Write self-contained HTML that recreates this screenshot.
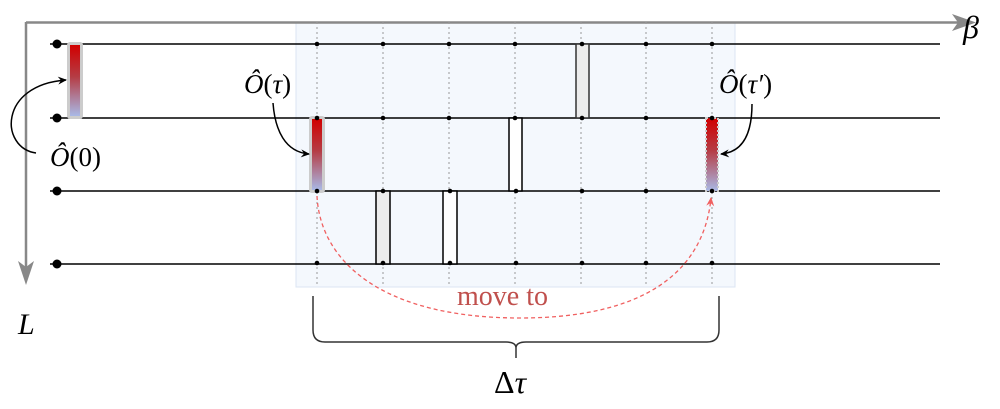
<!DOCTYPE html>
<html><head><meta charset="utf-8"><style>
html,body{margin:0;padding:0;background:#fff;width:1000px;height:409px;overflow:hidden}
text{font-family:"Liberation Serif",serif}
.i{font-style:italic}
</style></head><body>
<svg width="1000" height="409" viewBox="0 0 1000 409" xmlns="http://www.w3.org/2000/svg">
<defs>
<linearGradient id="rb" x1="0" y1="0" x2="0" y2="1">
<stop offset="0" stop-color="#d10000"/><stop offset="0.45" stop-color="#b53d45"/><stop offset="1" stop-color="#a9b9e6"/>
</linearGradient>
<marker id="ab" markerWidth="10" markerHeight="10" refX="8" refY="5" orient="auto" markerUnits="userSpaceOnUse"><path d="M0,1 L9,5 L0,9 L3,5 z" fill="#000"/></marker>
<marker id="ar" markerWidth="10" markerHeight="10" refX="8" refY="5" orient="auto" markerUnits="userSpaceOnUse"><path d="M0,1 L9,5 L0,9 L3,5 z" fill="#f06060"/></marker>
</defs>
<rect x="296" y="22" width="439" height="265" fill="#f4f8fd" stroke="#dbe5f3" stroke-width="1"/>
<line x1="26" y1="22.5" x2="965" y2="22.5" stroke="#888" stroke-width="2.5"/>
<path d="M976,22.5 L952,14 L958,22.5 L952,31 z" fill="#888"/>
<line x1="26" y1="22" x2="26" y2="275" stroke="#888" stroke-width="2.5"/>
<path d="M26,285 L18,261 L26,267 L34,261 z" fill="#888"/>
<text x="963" y="38" font-size="32" class="i">β</text>
<text x="18" y="334" font-size="30" class="i">L</text>
<g stroke="#999" stroke-width="1" stroke-dasharray="2,3">
<line x1="317" y1="22" x2="317" y2="287"/><line x1="383" y1="22" x2="383" y2="287"/>
<line x1="449" y1="22" x2="449" y2="287"/><line x1="515" y1="22" x2="515" y2="287"/>
<line x1="581" y1="22" x2="581" y2="287"/><line x1="646" y1="22" x2="646" y2="287"/>
<line x1="712" y1="22" x2="712" y2="287"/>
</g>
<g stroke="#000" stroke-width="1.5">
<line x1="50" y1="44" x2="940" y2="44"/><line x1="50" y1="118" x2="940" y2="118"/>
<line x1="50" y1="191" x2="940" y2="191"/><line x1="50" y1="264" x2="940" y2="264"/>
</g>
<g fill="#000">
<circle cx="57" cy="44" r="4.5"/><circle cx="57" cy="118" r="4.5"/><circle cx="57" cy="191" r="4.5"/><circle cx="57" cy="264" r="4.5"/>
</g>
<rect x="576" y="44" width="13" height="74" fill="#ececec" stroke="#333" stroke-width="1.5"/>
<rect x="509" y="118" width="13" height="73" fill="#fff" stroke="#000" stroke-width="1.5"/>
<rect x="376" y="191" width="14" height="73" fill="#ececec" stroke="#000" stroke-width="1.5"/>
<rect x="443" y="191" width="14" height="73" fill="#fff" stroke="#000" stroke-width="1.5"/>
<rect x="67" y="42" width="16" height="77" rx="3" fill="#ccc"/>
<rect x="70" y="45" width="10" height="71" fill="url(#rb)"/>
<rect x="309" y="116" width="16" height="77" rx="3" fill="#ccc"/>
<rect x="312" y="119" width="10" height="71" fill="url(#rb)"/>
<rect x="706" y="118" width="12" height="73" fill="url(#rb)" stroke="#ccc" stroke-width="2" stroke-dasharray="2,2"/>
<g fill="#000">
<circle cx="317" cy="44" r="2.3"/><circle cx="383" cy="44" r="2.3"/><circle cx="449" cy="44" r="2.3"/><circle cx="515" cy="44" r="2.3"/><circle cx="582" cy="44" r="2.3"/><circle cx="646" cy="44" r="2.3"/><circle cx="712" cy="44" r="2.3"/>
<circle cx="317" cy="118" r="2.3"/><circle cx="383" cy="118" r="2.3"/><circle cx="449" cy="118" r="2.3"/><circle cx="515" cy="118" r="2.3"/><circle cx="582" cy="118" r="2.3"/><circle cx="646" cy="118" r="2.3"/><circle cx="712" cy="118" r="2.3"/>
<circle cx="317" cy="191" r="2.3"/><circle cx="383" cy="191" r="2.3"/><circle cx="450" cy="191" r="2.3"/><circle cx="516" cy="191" r="2.3"/><circle cx="582" cy="191" r="2.3"/><circle cx="646" cy="191" r="2.3"/><circle cx="712" cy="191" r="2.3"/>
<circle cx="317" cy="263" r="2.3"/><circle cx="383" cy="263" r="2.3"/><circle cx="450" cy="263" r="2.3"/><circle cx="516" cy="263" r="2.3"/><circle cx="582" cy="263" r="2.3"/><circle cx="646" cy="263" r="2.3"/><circle cx="712" cy="263" r="2.3"/>
</g>
<text x="50" y="166" font-size="27"><tspan class="i">Ô</tspan>(0)</text>
<path d="M36,153 C0,148 -2,85 66,80" fill="none" stroke="#000" stroke-width="1.5" marker-end="url(#ab)"/>
<text x="244" y="93" font-size="27"><tspan class="i">Ô</tspan>(<tspan class="i">τ</tspan>)</text>
<path d="M273,103 C275,130 285,152 309,154" fill="none" stroke="#000" stroke-width="1.5" marker-end="url(#ab)"/>
<text x="719" y="93" font-size="27"><tspan class="i">Ô</tspan>(<tspan class="i">τ′</tspan>)</text>
<path d="M752,104 C752,130 745,152 721,154" fill="none" stroke="#000" stroke-width="1.5" marker-end="url(#ab)"/>
<path d="M317,196 C320,260 380,318 520,318 C660,318 705,260 711,198" fill="none" stroke="#f06060" stroke-width="1.3" stroke-dasharray="4,3" marker-end="url(#ar)"/>
<text x="457" y="305" font-size="28" fill="#c0504d">move to</text>
<path d="M313,296 V330 Q313,342 325,342 H506 Q516,342 516,348 V358 M516,348 Q516,342 526,342 H707 Q719,342 719,330 V296" fill="none" stroke="#333" stroke-width="1.5"/>
<text x="494" y="393" font-size="32">Δ<tspan class="i">τ</tspan></text>
</svg>
</body></html>
